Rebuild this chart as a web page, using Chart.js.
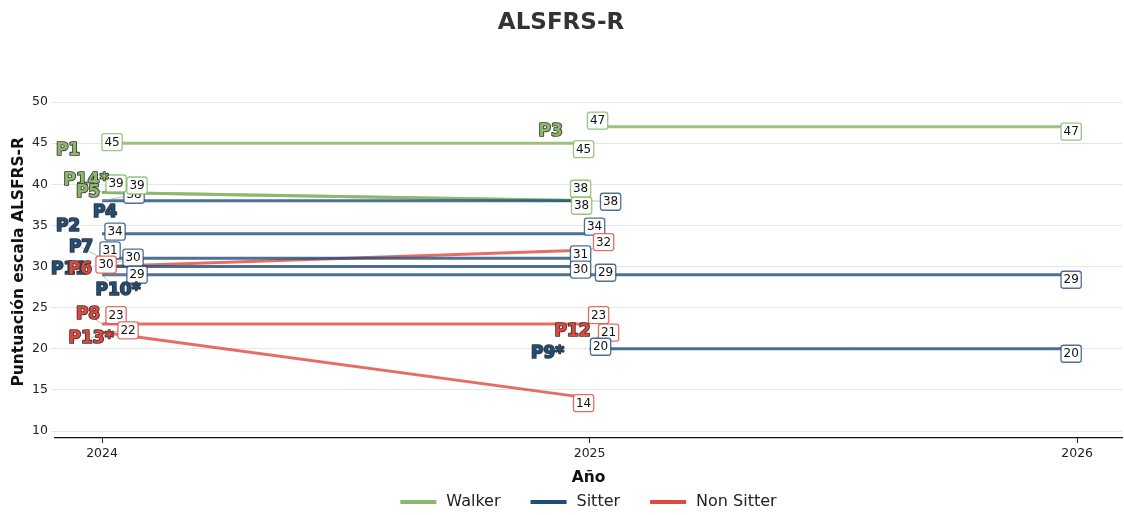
<!DOCTYPE html>
<html>
<head>
<meta charset="utf-8">
<script src="https://cdn.jsdelivr.net/npm/chart.js@4.4.1/dist/chart.umd.min.js"></script>
<style>
  html, body { margin: 0; padding: 0; background: #fff; }
</style>
</head>
<body>
<canvas id="chart" width="1124" height="515"></canvas>
<script>
// ---- data ----
const years = [2024, 2025, 2026];
const patients = ['P1', 'P3', 'P4', 'P14*', 'P5', 'P2', 'P7', 'P11', 'P6', 'P10*', 'P8', 'P13*', 'P12', 'P9*'];
const patientGroups = ['Walker', 'Walker', 'Sitter', 'Walker', 'Walker', 'Sitter', 'Sitter', 'Sitter',
    'Non Sitter', 'Sitter', 'Non Sitter', 'Non Sitter', 'Non Sitter', 'Sitter'];
const scores = [
    [45, 45, null],   // P1
    [null, 47, 47],   // P3
    [38, 38, null],   // P4
    [39, 38, null],   // P14*
    [39, 38, null],   // P5
    [34, 34, null],   // P2
    [31, 31, null],   // P7
    [30, 30, null],   // P11
    [30, 32, null],   // P6
    [29, 29, 29],     // P10*
    [23, 23, null],   // P8
    [22, 14, null],   // P13*
    [null, 21, null], // P12
    [null, 20, 20]    // P9*
];
const groupNames = ['Walker', 'Sitter', 'Non Sitter'];
const yTicks = [10, 15, 20, 25, 30, 35, 40, 45, 50];
const xTicks = [2024, 2025, 2026];

// ---- styling ----
const groupColors = { 'Walker': '#8bb86a', 'Sitter': '#1f4e79', 'Non Sitter': '#e0483c' };
const lineColors = { 'Walker': 'rgba(139,184,106,0.85)', 'Sitter': 'rgba(31,78,121,0.8)', 'Non Sitter': 'rgba(224,72,60,0.8)' };
const FONT = "'DejaVu Sans', sans-serif";

// pixel offsets of the value boxes from their point (label-repel result)
const valueOffsets = [
    [[10, -1], [-6, 6], null],
    [null, [8, -6], [-6, 5]],
    [[32, -6], [21, 1], null],
    [[14, -9], [-9, -12], null],
    [[35, -7], [-8, 5], null],
    [[13, -2], [5, -7], null],
    [[8, -8], [-9, -4], null],
    [[31, -9], [-9, 3], null],
    [[4, -2], [14, -8], null],
    [[35, 0], [16, -2], [-6, 5]],
    [[14, -9], [9, -9], null],
    [[26, -2], [-6, 5], null],
    [null, [19, -8], null],
    [null, [11, -2], [-6, 5]]
];
// pixel offsets of the patient names from the first point of each series
const nameOffsets = [
    [-34, 7], [-39, 5], [3, 12], [-16, -12], [-14, 0], [-34, -7], [-21, -11],
    [-33, 3.5], [-22, 3.5], [16, 16], [-14, -10], [-11, 6], [-17, -9], [-42, 5]
];
const nameConnectors = ['P4', 'P14*', 'P7', 'P10*', 'P8', 'P13*'];

const datasets = patients.map((p, i) => ({
    label: p,
    data: years.map((yr, j) => ({ x: yr, y: scores[i][j] })),
    borderColor: lineColors[patientGroups[i]],
    backgroundColor: lineColors[patientGroups[i]],
    borderWidth: 3,
    pointRadius: 0,
    pointHoverRadius: 0,
    spanGaps: false,
    tension: 0
}));

function roundRect(ctx, x, y, w, h, r) {
    ctx.beginPath();
    ctx.moveTo(x + r, y);
    ctx.lineTo(x + w - r, y);
    ctx.quadraticCurveTo(x + w, y, x + w, y + r);
    ctx.lineTo(x + w, y + h - r);
    ctx.quadraticCurveTo(x + w, y + h, x + w - r, y + h);
    ctx.lineTo(x + r, y + h);
    ctx.quadraticCurveTo(x, y + h, x, y + h - r);
    ctx.lineTo(x, y + r);
    ctx.quadraticCurveTo(x, y, x + r, y);
    ctx.closePath();
}

// draws value boxes, patient names and the group legend
const labelPlugin = {
    id: 'labelPlugin',
    afterDatasetsDraw(chart) {
        const { ctx, scales: { x, y } } = chart;
        ctx.save();

        // connector lines first
        ctx.strokeStyle = 'rgba(150,150,150,0.8)';
        ctx.lineWidth = 0.8;
        patients.forEach((p, i) => {
            scores[i].forEach((v, j) => {
                const off = valueOffsets[i][j];
                if (v === null || !off) return;
                if (Math.hypot(off[0], off[1]) < 14) return;
                const px = x.getPixelForValue(years[j]);
                const py = y.getPixelForValue(v);
                ctx.beginPath();
                ctx.moveTo(px, py);
                ctx.lineTo(px + off[0], py + off[1]);
                ctx.stroke();
            });
            if (nameConnectors.includes(p)) {
                const j0 = scores[i].findIndex(v => v !== null);
                const px = x.getPixelForValue(years[j0]);
                const py = y.getPixelForValue(scores[i][j0]);
                ctx.beginPath();
                ctx.moveTo(px, py);
                ctx.lineTo(px + nameOffsets[i][0], py + nameOffsets[i][1]);
                ctx.stroke();
            }
        });

        // value boxes
        ctx.font = '12px ' + FONT;
        ctx.textAlign = 'center';
        ctx.textBaseline = 'middle';
        patients.forEach((p, i) => {
            scores[i].forEach((v, j) => {
                const off = valueOffsets[i][j];
                if (v === null || !off) return;
                const cx = x.getPixelForValue(years[j]) + off[0];
                const cy = y.getPixelForValue(v) + off[1];
                const txt = String(v);
                const w = ctx.measureText(txt).width + 5;
                const h = 17;
                roundRect(ctx, cx - w / 2, cy - h / 2, w, h, 2.5);
                ctx.fillStyle = '#fff';
                ctx.fill();
                ctx.lineWidth = 1.3;
                ctx.strokeStyle = lineColors[patientGroups[i]];
                ctx.stroke();
                ctx.fillStyle = '#111';
                ctx.fillText(txt, cx, cy + 0.5);
            });
        });

        // patient names
        ctx.font = 'bold 17px ' + FONT;
        ctx.lineJoin = 'round';
        patients.forEach((p, i) => {
            const j0 = scores[i].findIndex(v => v !== null);
            const cx = x.getPixelForValue(years[j0]) + nameOffsets[i][0];
            const cy = y.getPixelForValue(scores[i][j0]) + nameOffsets[i][1];
            ctx.lineWidth = 1.7;
            ctx.strokeStyle = '#333';
            ctx.strokeText(p, cx, cy);
            ctx.fillStyle = groupColors[patientGroups[i]];
            ctx.fillText(p, cx, cy);
        });
        ctx.restore();
    },
    afterDraw(chart) {
        const { ctx, chartArea } = chart;
        ctx.save();
        ctx.font = '16px ' + FONT;
        ctx.textBaseline = 'middle';
        ctx.textAlign = 'left';
        const lineW = 36, gapText = 10, gapItem = 30;
        const widths = groupNames.map(g => lineW + gapText + ctx.measureText(g).width);
        const total = widths.reduce((a, b) => a + b, 0) + gapItem * (groupNames.length - 1);
        let lx = (chartArea.left + chartArea.right) / 2 - total / 2;
        const ly = 502;
        groupNames.forEach((g, k) => {
            ctx.fillStyle = groupColors[g];
            ctx.fillRect(lx, ly - 2, lineW, 4);
            ctx.fillStyle = '#222';
            ctx.fillText(g, lx + lineW + gapText, ly);
            lx += widths[k] + gapItem;
        });
        ctx.restore();
    }
};

new Chart(document.getElementById('chart'), {
    type: 'line',
    data: { datasets: datasets },
    options: {
        responsive: false,
        animation: false,
        devicePixelRatio: 1,
        layout: { padding: { left: 0, right: 2, top: 0, bottom: 25 } },
        plugins: {
            legend: { display: false },
            tooltip: { enabled: false },
            title: {
                display: true,
                text: 'ALSFRS-R',
                color: '#333',
                font: { family: FONT, size: 23, weight: 'bold' },
                padding: { top: 9, bottom: 49 }
            }
        },
        scales: {
            x: {
                type: 'linear',
                min: 2023.9035,
                max: 2026.092,
                afterBuildTicks: scale => { scale.ticks = xTicks.map(v => ({ value: v })); },
                afterFit: scale => { scale.height = 52; },
                ticks: {
                    color: '#222',
                    font: { family: FONT, size: 12.5 },
                    padding: 3,
                    callback: v => String(v)
                },
                grid: { drawOnChartArea: false, drawTicks: true, tickLength: 5, color: '#222', tickWidth: 1 },
                border: { display: true, color: '#111', width: 1.2 },
                title: {
                    display: true,
                    text: 'Año',
                    color: '#111',
                    font: { family: FONT, size: 15.5, weight: 'bold' },
                    padding: { top: 2, bottom: 3 }
                }
            },
            y: {
                type: 'linear',
                min: 9.15,
                max: 52,
                afterBuildTicks: scale => { scale.ticks = yTicks.map(v => ({ value: v })); },
                afterFit: scale => { scale.width = 55; },
                ticks: {
                    color: '#222',
                    font: { family: FONT, size: 12.5 },
                    padding: 3,
                    callback: v => String(v)
                },
                grid: { color: '#e6e6e6', lineWidth: 1, drawTicks: true, tickLength: 4 },
                border: { display: false },
                title: {
                    display: true,
                    text: 'Puntuación escala ALSFRS-R',
                    color: '#111',
                    font: { family: FONT, size: 15.5, weight: 'bold' },
                    padding: { top: 10, bottom: 4 }
                }
            }
        }
    },
    plugins: [labelPlugin]
});
</script>
</body>
</html>
